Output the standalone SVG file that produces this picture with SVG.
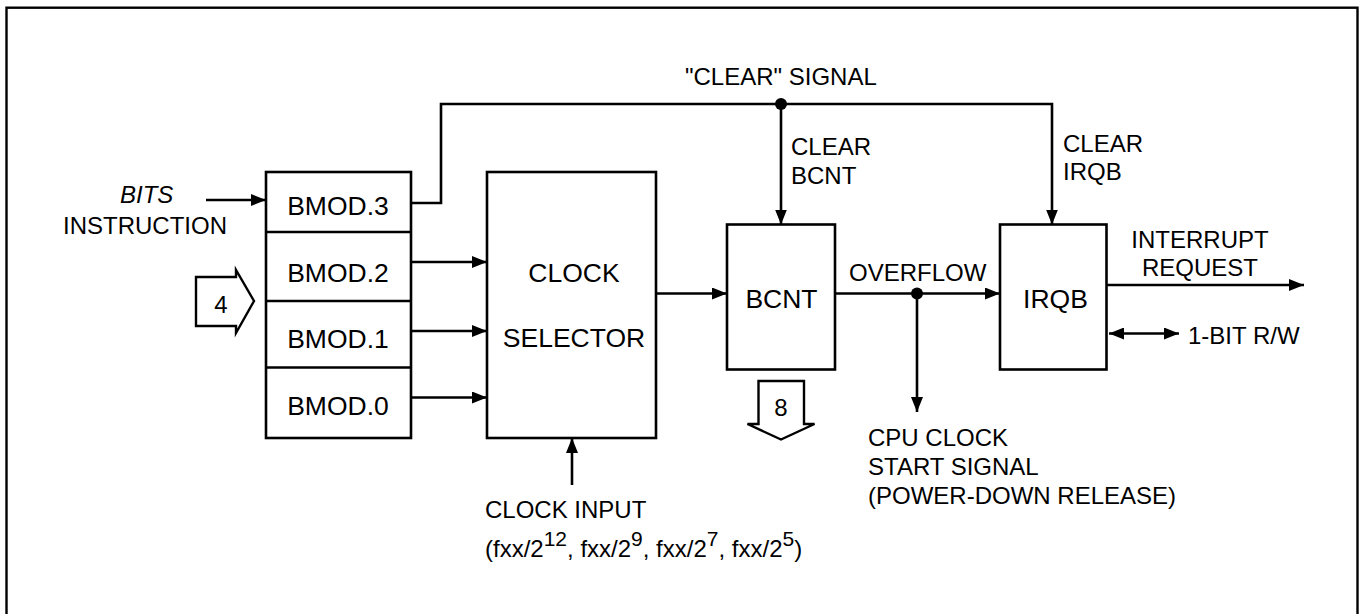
<svg xmlns="http://www.w3.org/2000/svg" width="1359" height="614" viewBox="0 0 1359 614">
<style>
text{font-family:"Liberation Sans",Arial,sans-serif;font-size:24px;fill:#000}
.big{font-size:26.5px}
.box{fill:#fff;stroke:#000;stroke-width:2.6}
.ln{fill:none;stroke:#000;stroke-width:2.6}
.bus{fill:#fff;stroke:#000;stroke-width:2.4;stroke-linejoin:miter}
.mid{text-anchor:middle}
.sup{font-size:21px}
</style>
<defs>
<marker id="ah" markerUnits="userSpaceOnUse" markerWidth="16" markerHeight="12" refX="15" refY="6" orient="auto-start-reverse">
<path d="M0,0 L15,6 L0,12 z" fill="#000"/>
</marker>
</defs>
<rect x="6.5" y="7.7" width="1351" height="620" fill="#fff" stroke="#000" stroke-width="2.4"/>

<g id="bmod">
<rect class="box" x="266" y="172" width="145" height="266"/>
<line class="ln" x1="266" y1="232" x2="411" y2="232"/>
<line class="ln" x1="266" y1="301" x2="411" y2="301"/>
<line class="ln" x1="266" y1="367.5" x2="411" y2="367.5"/>
<text class="big mid" x="338" y="215">BMOD.3</text>
<text class="big mid" x="338" y="282">BMOD.2</text>
<text class="big mid" x="338" y="348">BMOD.1</text>
<text class="big mid" x="338" y="415">BMOD.0</text>
</g>

<g id="clock-selector">
<rect class="box" x="487" y="172" width="169" height="266"/>
<text class="big mid" x="574" y="282">CLOCK</text>
<text class="big mid" x="574" y="347">SELECTOR</text>
</g>

<g id="bcnt">
<rect class="box" x="727" y="224.5" width="108" height="145"/>
<text class="big mid" x="781.5" y="308">BCNT</text>
</g>

<g id="irqb">
<rect class="box" x="1000" y="224.5" width="106.5" height="145"/>
<text class="big mid" x="1055.5" y="308">IRQB</text>
</g>

<g id="bus4">
<path class="bus" d="M196,277 L236,277 L236,270 L254,301 L236,333 L236,326 L196,326 Z"/>
<text class="mid" x="221" y="313">4</text>
</g>

<g id="bus8">
<path class="bus" d="M758.5,381 L804,381 L804,424 L814.5,424 L781,439.5 L747.5,424 L758.5,424 Z"/>
<text class="mid" x="781" y="416">8</text>
</g>

<g id="connectors">
<line class="ln" x1="206" y1="200" x2="266" y2="200" marker-end="url(#ah)"/>
<line class="ln" x1="411" y1="262" x2="487" y2="262" marker-end="url(#ah)"/>
<line class="ln" x1="411" y1="331" x2="487" y2="331" marker-end="url(#ah)"/>
<line class="ln" x1="411" y1="397.5" x2="487" y2="397.5" marker-end="url(#ah)"/>
<line class="ln" x1="656" y1="293.5" x2="727" y2="293.5" marker-end="url(#ah)"/>
<polyline class="ln" points="411,203 441,203 441,104 1052,104 1052,224.5" marker-end="url(#ah)"/>
<line class="ln" x1="781" y1="104" x2="781" y2="224.5" marker-end="url(#ah)"/>
<circle cx="781" cy="104" r="6" fill="#000"/>
<line class="ln" x1="835" y1="293.5" x2="1000" y2="293.5" marker-end="url(#ah)"/>
<line class="ln" x1="917" y1="293.5" x2="917" y2="412" marker-end="url(#ah)"/>
<circle cx="917" cy="293.5" r="6" fill="#000"/>
<line class="ln" x1="572" y1="485" x2="572" y2="438" marker-end="url(#ah)"/>
<line class="ln" x1="1106.5" y1="285" x2="1304" y2="285" marker-end="url(#ah)"/>
<line class="ln" x1="1109" y1="333.5" x2="1179" y2="333.5" marker-start="url(#ah)" marker-end="url(#ah)"/>
</g>

<g id="labels">
<text x="120" y="203" font-style="italic">BITS</text>
<text x="63" y="234">INSTRUCTION</text>
<text x="685" y="85">"CLEAR" SIGNAL</text>
<text x="791" y="155">CLEAR</text>
<text x="791" y="184">BCNT</text>
<text x="1063" y="152">CLEAR</text>
<text x="1063" y="180">IRQB</text>
<text x="849" y="281">OVERFLOW</text>
<text class="mid" x="1200" y="248">INTERRUPT</text>
<text class="mid" x="1200" y="276">REQUEST</text>
<text x="1188" y="344">1-BIT R/W</text>
<text x="868" y="446">CPU CLOCK</text>
<text x="868" y="475">START SIGNAL</text>
<text x="868" y="504">(POWER-DOWN RELEASE)</text>
<text x="485" y="518">CLOCK INPUT</text>
<text x="485" y="557">(fxx/2<tspan class="sup" dy="-11">12</tspan><tspan dy="11">, fxx/2</tspan><tspan class="sup" dy="-11">9</tspan><tspan dy="11">, fxx/2</tspan><tspan class="sup" dy="-11">7</tspan><tspan dy="11">, fxx/2</tspan><tspan class="sup" dy="-11">5</tspan><tspan dy="11">)</tspan></text>
</g>
</svg>
